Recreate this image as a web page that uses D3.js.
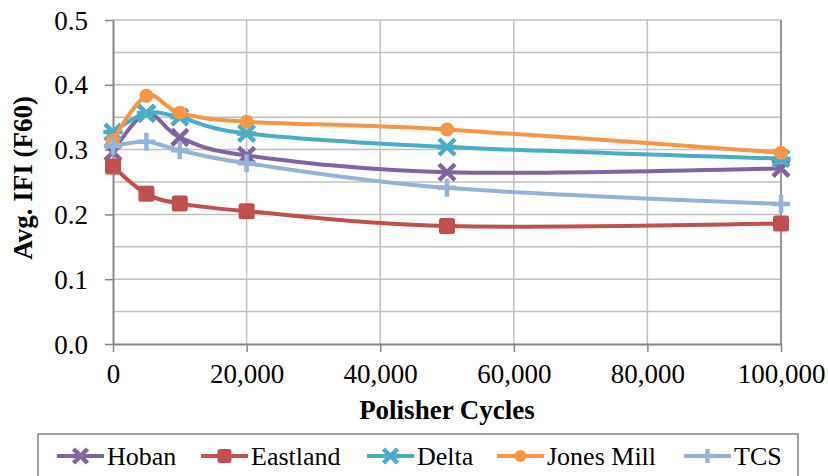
<!DOCTYPE html>
<html><head><meta charset="utf-8">
<script src="https://cdn.jsdelivr.net/npm/d3@7"></script>
<style>body{margin:0;background:#fff}svg{display:block}svg text{font-family:"Liberation Serif","Times New Roman",Times,Tinos,"DejaVu Serif",serif !important}</style>
</head><body>
<svg id="c" width="828" height="476"></svg>
<script>
const cycles = [0, 5000, 10000, 20000, 50000, 100000];
const hoban = [0.296, 0.356, 0.319, 0.291, 0.265, 0.271];
const eastland = [0.274, 0.232, 0.217, 0.205, 0.182, 0.186];
const delta = [0.327, 0.356, 0.350, 0.325, 0.304, 0.286];
const jonesMill = [0.314, 0.383, 0.357, 0.343, 0.331, 0.295];
const tcs = [0.305, 0.312, 0.299, 0.279, 0.241, 0.216];
const seriesNames = ["Hoban", "Eastland", "Delta", "Jones Mill", "TCS"];
const seriesColors = ["#8064A2", "#C0504D", "#4BACC6", "#F79646", "#95B3D7"];
const markerTypes = ["x", "square", "star", "circle", "plus"];
const xTicks = [0, 20000, 40000, 60000, 80000, 100000];
const yTicks = [0, 0.1, 0.2, 0.3, 0.4, 0.5];
const yGrid = [0.05, 0.1, 0.15, 0.2, 0.25, 0.3, 0.35, 0.4, 0.45, 0.5];

const allSeries = [hoban, eastland, delta, jonesMill, tcs];
const svg = d3.select("#c");
const x = d3.scaleLinear().domain([0, 100000]).range([113, 781]);
const y = d3.scaleLinear().domain([0, 0.5]).range([344, 20]);

// grid
svg.append("g").selectAll("line").data(yGrid).join("line")
  .attr("x1", x(0)).attr("x2", x(100000)).attr("y1", d => y(d)).attr("y2", d => y(d))
  .attr("stroke", "#c0c0c0").attr("stroke-width", 1.5);
svg.append("g").selectAll("line").data(xTicks.slice(1)).join("line")
  .attr("x1", d => x(d)).attr("x2", d => x(d)).attr("y1", y(0)).attr("y2", y(0.5))
  .attr("stroke", "#c0c0c0").attr("stroke-width", 1.5);

// axes
const fmt = d3.format(",");
const xAxis = svg.append("g").attr("transform", `translate(0,${y(0)})`)
  .call(d3.axisBottom(x).tickValues(xTicks).tickFormat(fmt).tickSize(8).tickSizeOuter(0));
const yAxis = svg.append("g").attr("transform", `translate(${x(0)},0)`)
  .call(d3.axisLeft(y).tickValues(yTicks).tickFormat(d3.format(".1f")).tickSize(8).tickSizeOuter(0));
[xAxis, yAxis].forEach(a => {
  a.attr("font-family", null);
  a.select(".domain").attr("stroke", "#868686").attr("stroke-width", 2);
  a.selectAll(".tick line").attr("stroke", "#868686").attr("stroke-width", 1.5);
  a.selectAll(".tick text").attr("font-size", 27).attr("fill", "#000");
});
xAxis.selectAll(".tick text").attr("dy", null).attr("y", 39);
yAxis.selectAll(".tick text").attr("x", -25).attr("dy", "0.34em");
// right border
svg.append("line").attr("x1", x(100000)).attr("x2", x(100000)).attr("y1", y(0)).attr("y2", y(0.5))
  .attr("stroke", "#868686").attr("stroke-width", 1.5);

// axis titles
svg.append("text").attr("x", x(50000)).attr("y", 419).attr("text-anchor", "middle")
  .attr("font-weight", "bold").attr("font-size", 27).text("Polisher Cycles");
svg.append("text").attr("transform", `translate(32,178) rotate(-90)`).attr("text-anchor", "middle")
  .attr("font-weight", "bold").attr("font-size", 27).text("Avg. IFI (F60)");

function drawMarker(g, type, color, s) {
  if (type === "x") {
    g.append("path").attr("d", `M${-s},${-s}L${s},${s}M${-s},${s}L${s},${-s}`)
      .attr("stroke", color).attr("stroke-width", 4.5).attr("fill", "none");
  } else if (type === "square") {
    g.append("rect").attr("x", -s).attr("y", -s).attr("width", 2 * s).attr("height", 2 * s)
      .attr("rx", 2.5).attr("fill", color);
  } else if (type === "star") {
    g.append("path").attr("d", `M${-s},${-s}L${s},${s}M${-s},${s}L${s},${-s}M${-s * 1.2},0L${s * 1.2},0`)
      .attr("stroke", color).attr("stroke-width", 4.5).attr("fill", "none");
  } else if (type === "circle") {
    g.append("circle").attr("r", s).attr("fill", color);
  } else if (type === "plus") {
    g.append("path").attr("d", `M${-s},0L${s},0M0,${-s}L0,${s}`)
      .attr("stroke", color).attr("stroke-width", 4.5).attr("fill", "none");
  }
}
const markerSize = [8, 8, 8, 7, 9];

const line = d3.line().x(d => x(d[0])).y(d => y(d[1])).curve(d3.curveCatmullRom.alpha(0));
allSeries.forEach((vals, i) => {
  const pts = cycles.map((c, j) => [c, vals[j]]);
  const g = svg.append("g");
  g.append("path").datum(pts).attr("d", line).attr("fill", "none")
    .attr("stroke", seriesColors[i]).attr("stroke-width", 4).attr("stroke-linejoin", "round");
  pts.forEach(p => {
    const m = g.append("g").attr("transform", `translate(${x(p[0])},${y(p[1])})`);
    drawMarker(m, markerTypes[i], seriesColors[i], markerSize[i]);
  });
});

// legend
svg.append("rect").attr("x", 38).attr("y", 434).attr("width", 760).attr("height", 50)
  .attr("fill", "#fff").attr("stroke", "#868686").attr("stroke-width", 1.5);
const legX = [57, 201, 367, 497, 684];
seriesNames.forEach((n, i) => {
  const g = svg.append("g").attr("transform", `translate(${legX[i]},456)`);
  g.append("line").attr("x1", 0).attr("x2", 47).attr("stroke", seriesColors[i]).attr("stroke-width", 4);
  const m = g.append("g").attr("transform", "translate(23.5,0)");
  drawMarker(m, markerTypes[i], seriesColors[i], i === 3 ? 6 : 7);
  g.append("text").attr("x", 50).attr("y", 9).attr("font-size", 26).text(n);
});
</script>
</body></html>
